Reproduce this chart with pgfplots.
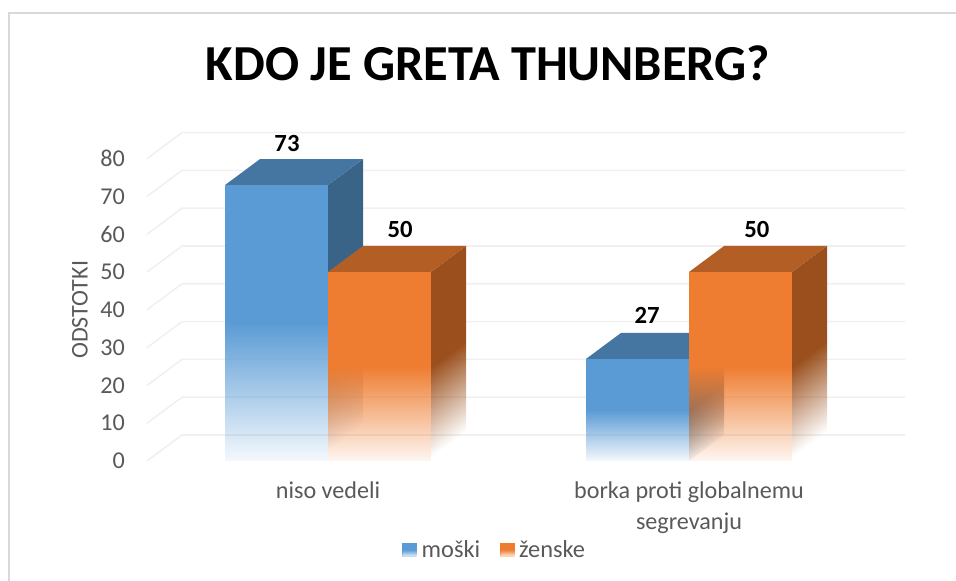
\documentclass[border=0pt]{standalone}
\usepackage{pgfplots}
\pgfplotsset{compat=1.18}
\usepackage{fontspec}
\setmainfont{Carlito}
\usetikzlibrary{fadings}
\definecolor{txt}{HTML}{595959}
\definecolor{gridc}{HTML}{F0F0F0}
\definecolor{frm}{HTML}{D9D9D9}
\definecolor{bf}{HTML}{5B9BD5}
\definecolor{bt}{HTML}{4575A1}
\definecolor{bs}{HTML}{396488}
\definecolor{of}{HTML}{EE7D31}
\definecolor{ot}{HTML}{B35E25}
\definecolor{os}{HTML}{9A4F1C}
\pgfdeclareverticalshading{halfshade}{100bp}{color(0bp)=(pgftransparent!100); color(25bp)=(pgftransparent!94); color(50bp)=(pgftransparent!0); color(100bp)=(pgftransparent!0)}
\pgfdeclarefading{halffade}{\pgfuseshading{halfshade}}
\pgfdeclareverticalshading{sideshade}{100bp}{color(0bp)=(pgftransparent!100); color(29bp)=(pgftransparent!100); color(50bp)=(pgftransparent!0); color(100bp)=(pgftransparent!0)}
\pgfdeclarefading{sidefade}{\pgfuseshading{sideshade}}
\begin{document}
\begin{tikzpicture}
\path[use as bounding box] (0,0) rectangle (717pt,435.75pt);
\draw[frm,line width=1.2pt] (6.8pt,-3pt) -- (6.8pt,425.9pt) -- (730pt,425.9pt);
\begin{axis}[
  at={(110.25pt,90pt)},anchor=south west,
  scale only axis,width=568.5pt,height=246.65pt,
  xmin=-0.5014,xmax=1.5983,ymin=0,ymax=87,
  axis line style={draw=none},major tick length=0pt,clip=false,
  xtick={0,1},xticklabels={niso vedeli,{borka proti globalnemu\\segrevanju}},
  ytick={0,10,...,80},
  tick label style={text=txt,font=\fontsize{18.1}{23.3}\selectfont},
  /pgf/number format/assume math mode=true,
  xticklabel style={align=center,yshift=-12pt,anchor=north},
  yticklabel style={anchor=east,xshift=-13pt},
  ylabel={ODSTOTKI},
  every axis y label/.style={at={(axis cs:-0.687,40)},rotate=90,anchor=center,text=txt,font=\fontsize{18}{20}\selectfont},
  legend columns=2,
  legend style={at={(axis cs:0.4625,-23.5)},anchor=center,draw=none,fill=none,font=\fontsize{18.3}{20}\selectfont,text=txt,
    /tikz/every even column/.style={column sep=12.5pt},inner sep=0pt,row sep=0pt},
  legend cell align=left,
]
\addlegendimage{legend image code/.code={\fill[bf,path fading=halffade] (0pt,-5.2pt) rectangle (10.5pt,5.2pt);\path[draw=none,fill=none] (0pt,0pt) -- (12.4pt,0pt);}}
\addlegendentry{moški}
\addlegendimage{legend image code/.code={\fill[of,path fading=halffade] (0pt,-5.2pt) rectangle (10.5pt,5.2pt);\path[draw=none,fill=none] (0pt,0pt) -- (12.4pt,0pt);}}
\addlegendentry{ženske}
% grid
\addplot[gridc,line width=1.2pt,forget plot,unbounded coords=jump] table {
x y
-0.5014 0
-0.4044 6.88
1.5983 6.88
nan nan
-0.5014 10
-0.4044 16.88
1.5983 16.88
nan nan
-0.5014 20
-0.4044 26.88
1.5983 26.88
nan nan
-0.5014 30
-0.4044 36.88
1.5983 36.88
nan nan
-0.5014 40
-0.4044 46.88
1.5983 46.88
nan nan
-0.5014 50
-0.4044 56.88
1.5983 56.88
nan nan
-0.5014 60
-0.4044 66.88
1.5983 66.88
nan nan
-0.5014 70
-0.4044 76.88
1.5983 76.88
nan nan
-0.5014 80
-0.4044 86.88
1.5983 86.88
};
% group 1 male
\addplot[fill=bs,draw=none,forget plot,path fading=sidefade,fading transform={yslant=0.086}] coordinates {(0,0) (0.097,6.88) (0.097,79.88) (0,73)} -- cycle;
\addplot[fill=bt,draw=none,forget plot] coordinates {(-0.2853,73) (-0.1883,79.88) (0.097,79.88) (0,73)} -- cycle;
\addplot[fill=bf,draw=none,forget plot,path fading=halffade] coordinates {(-0.2853,0) (-0.2853,73) (0,73) (0,0)} -- cycle;
% group 1 female
\addplot[fill=os,draw=none,forget plot,path fading=sidefade,fading transform={yslant=0.121}] coordinates {(0.2853,0) (0.3823,6.88) (0.3823,56.88) (0.2853,50)} -- cycle;
\addplot[fill=ot,draw=none,forget plot] coordinates {(0,50) (0.097,56.88) (0.3823,56.88) (0.2853,50)} -- cycle;
\addplot[fill=of,draw=none,forget plot,path fading=halffade] coordinates {(0,0) (0,50) (0.2853,50) (0.2853,0)} -- cycle;
% group 2 male
\addplot[fill=bs,draw=none,forget plot,path fading=sidefade,fading transform={yslant=0.203}] coordinates {(1,0) (1.097,6.88) (1.097,33.88) (1,27)} -- cycle;
\addplot[fill=bt,draw=none,forget plot] coordinates {(0.7147,27) (0.8117,33.88) (1.097,33.88) (1,27)} -- cycle;
\addplot[fill=bf,draw=none,forget plot,path fading=halffade] coordinates {(0.7147,0) (0.7147,27) (1,27) (1,0)} -- cycle;
% group 2 female
\addplot[fill=os,draw=none,forget plot,path fading=sidefade,fading transform={yslant=0.121}] coordinates {(1.2853,0) (1.3823,6.88) (1.3823,56.88) (1.2853,50)} -- cycle;
\addplot[fill=ot,draw=none,forget plot] coordinates {(1,50) (1.097,56.88) (1.3823,56.88) (1.2853,50)} -- cycle;
\addplot[fill=of,draw=none,forget plot,path fading=halffade] coordinates {(1,0) (1,50) (1.2853,50) (1.2853,0)} -- cycle;
% labels
\begin{scope}[every node/.style={font=\fontsize{18.5}{20}\bfseries\selectfont,text=black,anchor=center,inner sep=0pt}]
\node at (axis cs:-0.1136,83.9) {73};
\node at (axis cs:0.2,61.2) {50};
\node at (axis cs:0.884,38.4) {27};
\node at (axis cs:1.188,61.2) {50};
\end{scope}
\end{axis}
\node[anchor=center,font=\fontsize{37.8}{42}\bfseries\selectfont,text=black,inner sep=0pt] at (366pt,388.5pt) {KDO JE GRETA THUNBERG?};
\end{tikzpicture}
\end{document}
